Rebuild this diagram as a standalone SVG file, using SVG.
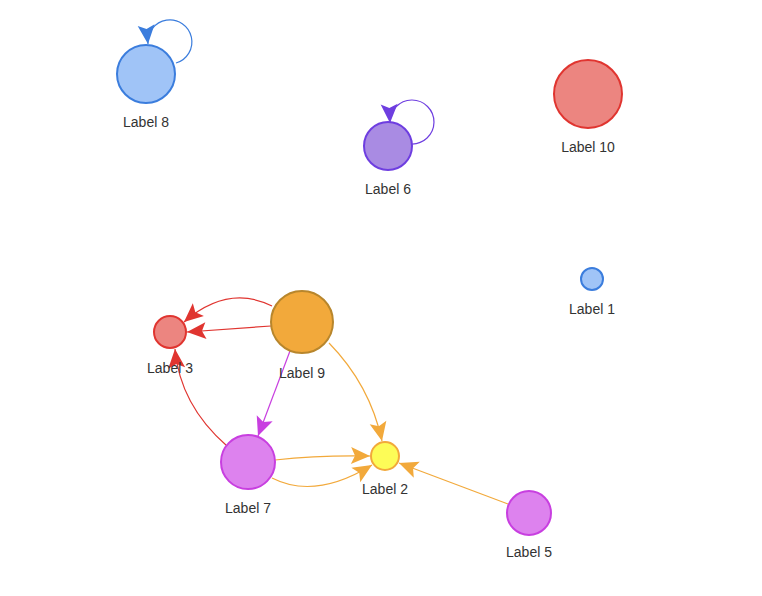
<svg xmlns="http://www.w3.org/2000/svg" width="762" height="596" viewBox="0 0 762 596">
<style>
  text { font-family: "Liberation Sans", Arial, sans-serif; font-size: 14px; fill: #333; text-anchor: middle; }
  .node circle { stroke-width: 2; }
  .blue { fill: #a0c4f7; stroke: #3b7ddd; }
  .purple { fill: #a98be3; stroke: #6e3ee0; }
  .red { fill: #ec8580; stroke: #e03530; }
  .orange { fill: #f2a93b; stroke: #b8862c; }
  .magenta { fill: #dd82ee; stroke: #c83fe0; }
  .yellow { fill: #fdfc57; stroke: #f2a93b; }
  .edge { fill: none; stroke-width: 1.2; }
</style>
<defs>
  <marker id="aBlue" viewBox="-20 -9 21 18" refX="0" refY="0" markerWidth="21" markerHeight="18" markerUnits="userSpaceOnUse" orient="auto"><path d="M0,0 L-19,-8.5 L-15,0 L-19,8.5 Z" fill="#3b7ddd"/></marker>
  <marker id="aPurple" viewBox="-20 -9 21 18" refX="0" refY="0" markerWidth="21" markerHeight="18" markerUnits="userSpaceOnUse" orient="auto"><path d="M0,0 L-19,-8.5 L-15,0 L-19,8.5 Z" fill="#6e3ee0"/></marker>
  <marker id="aRed" viewBox="-20 -9 21 18" refX="0" refY="0" markerWidth="21" markerHeight="18" markerUnits="userSpaceOnUse" orient="auto"><path d="M0,0 L-19,-8.5 L-15,0 L-19,8.5 Z" fill="#e03530"/></marker>
  <marker id="aMagenta" viewBox="-20 -9 21 18" refX="0" refY="0" markerWidth="21" markerHeight="18" markerUnits="userSpaceOnUse" orient="auto"><path d="M0,0 L-19,-8.5 L-15,0 L-19,8.5 Z" fill="#c83fe0"/></marker>
  <marker id="aOrange" viewBox="-20 -9 21 18" refX="0" refY="0" markerWidth="21" markerHeight="18" markerUnits="userSpaceOnUse" orient="auto"><path d="M0,0 L-19,-8.5 L-15,0 L-19,8.5 Z" fill="#f2a93b"/></marker>
</defs>
<rect width="762" height="596" fill="#ffffff"/>
<g id="connectors">
  <path class="edge" stroke="#3b7ddd" d="M176,63 A22,22 0 1 0 148,44" marker-end="url(#aBlue)"/>
  <path class="edge" stroke="#6e3ee0" d="M411,144 A22,22 0 1 0 390,123" marker-end="url(#aPurple)"/>
  <path class="edge" stroke="#e03530" d="M272,306 Q228,284 184,322" marker-end="url(#aRed)"/>
  <path class="edge" stroke="#e03530" d="M271,326 L187,332" marker-end="url(#aRed)"/>
  <path class="edge" stroke="#e03530" d="M227,446 Q180,405 175,349" marker-end="url(#aRed)"/>
  <path class="edge" stroke="#c83fe0" d="M290,351 L258,436" marker-end="url(#aMagenta)"/>
  <path class="edge" stroke="#f2a93b" d="M329,343 Q370,385 382,441" marker-end="url(#aOrange)"/>
  <path class="edge" stroke="#f2a93b" d="M275,460 Q320,455 370,456" marker-end="url(#aOrange)"/>
  <path class="edge" stroke="#f2a93b" d="M272,478 Q315,500 372,465" marker-end="url(#aOrange)"/>
  <path class="edge" stroke="#f2a93b" d="M508,504 L399,463" marker-end="url(#aOrange)"/>
</g>
<g id="node8" class="node"><circle class="blue" cx="146" cy="74" r="29"/><text x="146" y="127">Label 8</text></g>
<g id="node6" class="node"><circle class="purple" cx="388" cy="146" r="24"/><text x="388" y="194">Label 6</text></g>
<g id="node10" class="node"><circle class="red" cx="588" cy="94" r="34"/><text x="588" y="152">Label 10</text></g>
<g id="node1" class="node"><circle class="blue" cx="592" cy="279" r="11"/><text x="592" y="314">Label 1</text></g>
<g id="node9" class="node"><circle class="orange" cx="302" cy="322" r="31"/><text x="302" y="378">Label 9</text></g>
<g id="node3" class="node"><circle class="red" cx="170" cy="332" r="16"/><text x="170" y="373">Label 3</text></g>
<g id="node7" class="node"><circle class="magenta" cx="248" cy="462" r="27"/><text x="248" y="513">Label 7</text></g>
<g id="node2" class="node"><circle class="yellow" cx="385" cy="456" r="14"/><text x="385" y="494">Label 2</text></g>
<g id="node5" class="node"><circle class="magenta" cx="529" cy="513" r="22"/><text x="529" y="557">Label 5</text></g>
</svg>
